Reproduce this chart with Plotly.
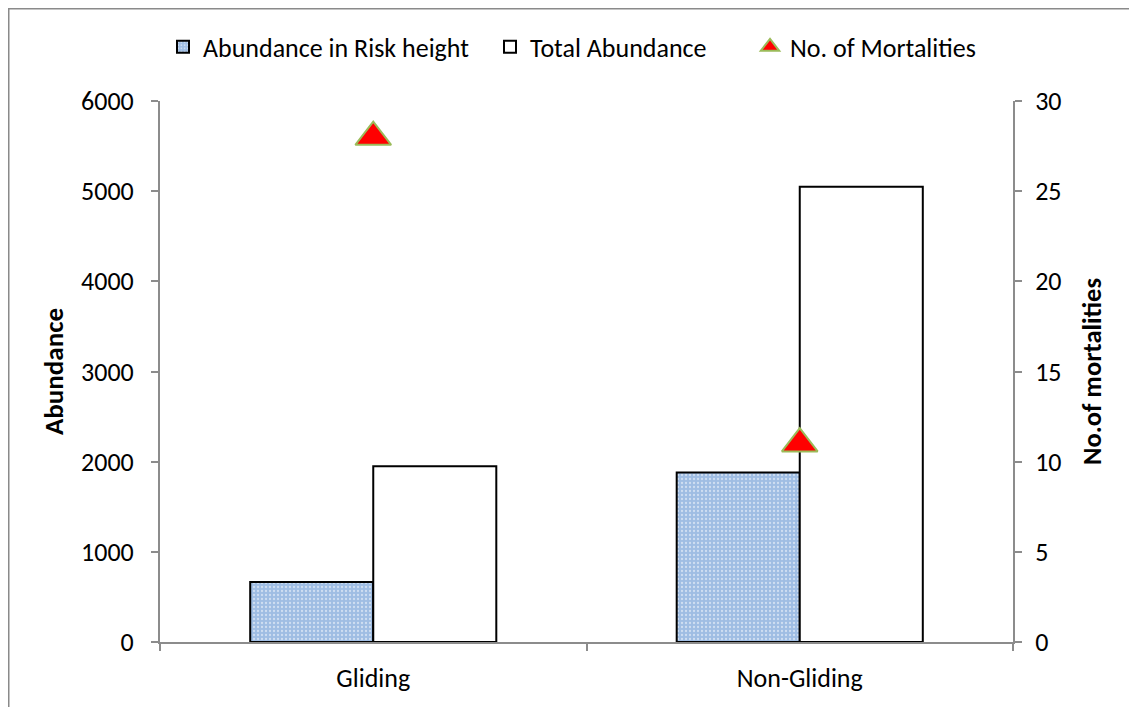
import plotly.graph_objects as go

categories = ["Gliding", "Non-Gliding"]
abundance_risk = [665, 1880]
total_abundance = [1950, 5050]
mortalities = [28, 11]
left_ticks = [0, 1000, 2000, 3000, 4000, 5000, 6000]
right_ticks = [0, 5, 10, 15, 20, 25, 30]

FONT = "Carlito, Calibri, Lato, sans-serif"
AX = "#8c8c8c"

fig = go.Figure()
fig.add_trace(go.Bar(
    x=categories, y=abundance_risk, name="Abundance in Risk height", legend="legend",
    marker=dict(color="#9fbde3", line=dict(color="black", width=2),
                pattern=dict(shape=".", fgcolor="white", size=4, solidity=0.25)),
))
fig.add_trace(go.Bar(
    x=categories, y=total_abundance, name="Total Abundance", legend="legend2",
    marker=dict(color="white", line=dict(color="black", width=2)),
))
fig.add_trace(go.Scatter(
    x=categories, y=mortalities, name="No. of Mortalities", yaxis="y2", legend="legend3",
    mode="markers",
    marker=dict(symbol="triangle-up", size=31, color="red",
                line=dict(color="#9bbb59", width=2)),
))

leg = dict(orientation="h", xanchor="left", y=1.10, yanchor="middle",
           font=dict(size=26), itemwidth=30, bgcolor="rgba(0,0,0,0)")

fig.update_layout(
    width=1129, height=699,
    margin=dict(l=152, r=124, t=93, b=65),
    paper_bgcolor="white", plot_bgcolor="white",
    font=dict(family=FONT, size=26, color="black"),
    barmode="group", bargap=0.423, bargroupgap=0,
    showlegend=True,
    legend=dict(leg, x=0.0035),
    legend2=dict(leg, x=0.3869),
    legend3=dict(leg, x=0.6917),
    xaxis=dict(type="category", showline=True, linecolor=AX, linewidth=2,
               ticks="outside", tickson="boundaries", ticklen=7, tickcolor=AX,
               tickwidth=1.5, showgrid=False, range=[-0.5, 1.5], ticklabelstandoff=12),
    yaxis=dict(range=[0, 6000], tickvals=left_ticks, showline=True, linecolor=AX,
               linewidth=2, ticks="outside", ticklen=7, tickcolor=AX, tickwidth=1.5,
               showgrid=False, zeroline=False, ticklabelstandoff=12,
               title=dict(text="<b>Abundance</b>", standoff=10, font=dict(size=27))),
    yaxis2=dict(range=[0, 30], tickvals=right_ticks, overlaying="y", side="right",
                showline=True, linecolor=AX, linewidth=2, ticks="outside", ticklen=7,
                tickcolor=AX, tickwidth=1.5, showgrid=False, zeroline=False,
                ticklabelstandoff=8,
                title=dict(text="<b>No.of mortalities</b>", standoff=22, font=dict(size=26.5))),
    shapes=[dict(type="rect", xref="paper", yref="paper",
                 x0=-0.1773, x1=1.4, y0=-0.4, y1=1.1705,
                 line=dict(color="#8a8a8a", width=1.5), fillcolor="rgba(0,0,0,0)",
                 layer="below")],
)

fig.write_html("out.html")
